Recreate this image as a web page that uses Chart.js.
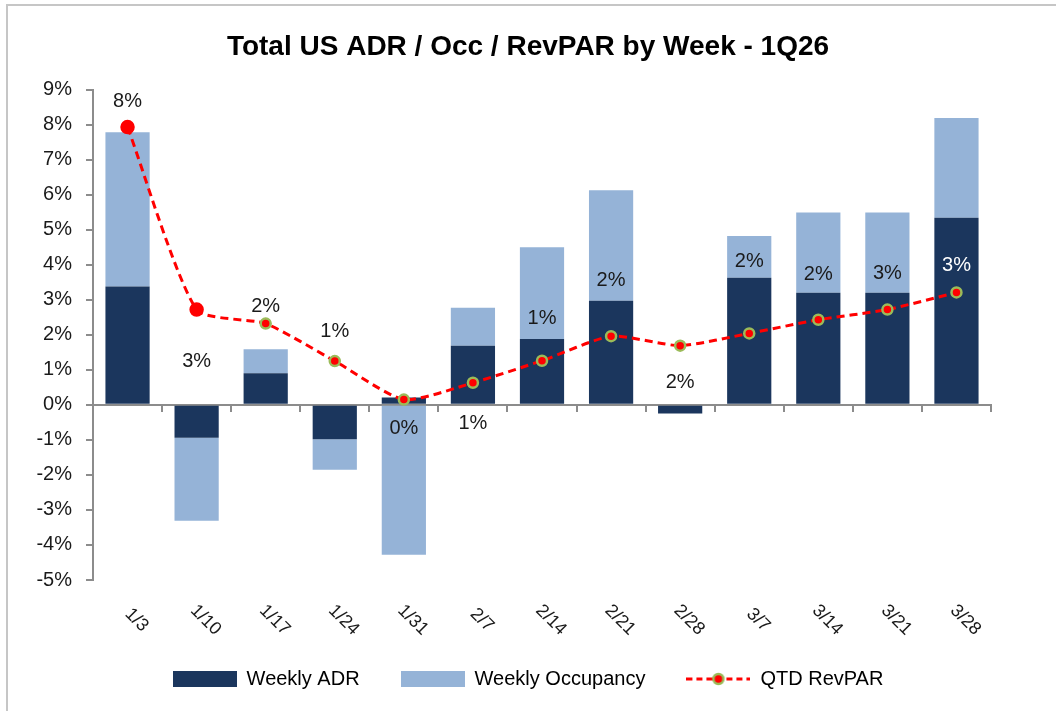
<!DOCTYPE html>
<html>
<head>
<meta charset="utf-8">
<script src="https://cdn.jsdelivr.net/npm/chart.js@4.4.1/dist/chart.umd.min.js"></script>
<style>
  html, body { margin: 0; padding: 0; background: #fff; }
  #wrap { position: relative; width: 1056px; height: 711px; overflow: hidden; }
  #frame { position: absolute; left: 6px; top: 4px; width: 1100px; height: 800px;
           border-top: 2px solid #c6c6c6; border-left: 2px solid #c6c6c6; }
  canvas { position: absolute; left: 0; top: 0; }
</style>
</head>
<body>
<div id="wrap">
  <div id="frame"></div>
  <canvas id="chart" width="1056" height="711"></canvas>
</div>
<script>
const weeks = ['1/3', '1/10', '1/17', '1/24', '1/31', '2/7', '2/14', '2/21', '2/28', '3/7', '3/14', '3/21', '3/28'];
const weeklyAdr = [3.38, -0.94, 0.90, -0.98, 0.21, 1.69, 1.88, 2.97, -0.25, 3.63, 3.20, 3.20, 5.34];
const weeklyOcc = [4.40, -2.37, 0.69, -0.87, -4.28, 1.08, 2.62, 3.16, 0, 1.19, 2.29, 2.29, 2.85];
const qtdRevpar = [7.93, 2.72, 2.32, 1.25, 0.15, 0.63, 1.26, 1.96, 1.69, 2.04, 2.43, 2.72, 3.21];

// where each RevPAR label sits relative to its point (px, negative = above)
const labelOffsets = [-26, 52, -17, -30, 29, 41, -42, -56, 37, -72, -45, -36, -27];
const labelColours = weeks.map((w, i) => i === weeks.length - 1 ? '#ffffff' : '#1a1a1a');

const fontFamily = "'Liberation Sans', Arial, sans-serif";
const navy = '#1b365d';
const lightBlue = '#95b3d7';
const red = '#ff0000';
const olive = '#9bbb59';
const axisGrey = '#8c8c8c';

function swatch(draw) {
    const c = document.createElement('canvas');
    c.width = 64;
    c.height = 16;
    draw(c.getContext('2d'));
    return c;
}

const legendSwatches = [
    swatch(g => { g.fillStyle = navy; g.fillRect(0, 0, 64, 16); }),
    swatch(g => { g.fillStyle = lightBlue; g.fillRect(0, 0, 64, 16); }),
    swatch(g => {
        g.strokeStyle = red;
        g.lineWidth = 3;
        g.setLineDash([6, 4]);
        g.beginPath();
        g.moveTo(0, 8);
        g.lineTo(64, 8);
        g.stroke();
        g.setLineDash([]);
        g.beginPath();
        g.arc(32, 8, 5, 0, Math.PI * 2);
        g.fillStyle = red;
        g.fill();
        g.lineWidth = 2.5;
        g.strokeStyle = olive;
        g.stroke();
    })
];

const weekLabels = {
    id: 'weekLabels',
    afterDraw(chart) {
        const { ctx, chartArea } = chart;
        const x = chart.scales.x;
        ctx.save();
        ctx.font = '18px ' + fontFamily;
        ctx.fillStyle = '#1a1a1a';
        ctx.textAlign = 'center';
        ctx.textBaseline = 'middle';
        weeks.forEach((w, i) => {
            ctx.save();
            ctx.translate(x.getPixelForValue(i) + 9, chartArea.bottom + 40);
            ctx.rotate(Math.PI / 4);
            ctx.fillText(w, 0, 0);
            ctx.restore();
        });
        ctx.restore();
    }
};

const revparLabels = {
    id: 'revparLabels',
    afterDatasetsDraw(chart) {
        const { ctx } = chart;
        const meta = chart.getDatasetMeta(2);
        ctx.save();
        ctx.font = '20px ' + fontFamily;
        ctx.textAlign = 'center';
        ctx.textBaseline = 'middle';
        meta.data.forEach((pt, i) => {
            ctx.fillStyle = labelColours[i];
            ctx.fillText(Math.round(qtdRevpar[i]) + '%', pt.x, pt.y + labelOffsets[i]);
        });
        ctx.restore();
    }
};

const pointBorders = qtdRevpar.map((v, i) => i < 2 ? red : olive);
const pointRadii = qtdRevpar.map((v, i) => i < 2 ? 6 : 5);

new Chart(document.getElementById('chart'), {
    type: 'bar',
    data: {
        labels: weeks,
        datasets: [
            {
                label: 'Weekly ADR',
                data: weeklyAdr,
                backgroundColor: navy,
                stack: 'wk',
                xAxisID: 'x',
                yAxisID: 'y',
                order: 1,
                barPercentage: 0.64,
                categoryPercentage: 1
            },
            {
                label: 'Weekly Occupancy',
                data: weeklyOcc,
                backgroundColor: lightBlue,
                stack: 'wk',
                xAxisID: 'x',
                yAxisID: 'y',
                order: 1,
                barPercentage: 0.64,
                categoryPercentage: 1
            },
            {
                type: 'line',
                label: 'QTD RevPAR',
                data: qtdRevpar,
                xAxisID: 'x',
                yAxisID: 'y',
                order: 0,
                borderColor: red,
                borderWidth: 3,
                borderDash: [8, 5],
                tension: 0.2,
                fill: false,
                pointRadius: pointRadii,
                pointBackgroundColor: red,
                pointBorderColor: pointBorders,
                pointBorderWidth: 2.5
            }
        ]
    },
    options: {
        responsive: false,
        animation: false,
        layout: { padding: { left: 0, right: 0, top: 0, bottom: 12 } },
        plugins: {
            title: {
                display: true,
                text: 'Total US ADR / Occ / RevPAR by Week - 1Q26',
                color: '#000',
                font: { family: fontFamily, size: 28, weight: 'bold' },
                padding: { top: 30, bottom: 26 }
            },
            legend: {
                position: 'bottom',
                labels: {
                    color: '#000',
                    font: { family: fontFamily, size: 20 },
                    usePointStyle: true,
                    pointStyleWidth: 64,
                    boxWidth: 64,
                    boxHeight: 16,
                    padding: 41,
                    generateLabels(chart) {
                        const items = Chart.defaults.plugins.legend.labels.generateLabels(chart);
                        items.sort((a, b) => a.datasetIndex - b.datasetIndex);
                        items.forEach(it => { it.pointStyle = legendSwatches[it.datasetIndex]; });
                        return items;
                    }
                }
            },
            tooltip: { enabled: false }
        },
        scales: {
            x: {
                position: { y: 0 },
                stacked: true,
                offset: true,
                grid: { offset: true, drawOnChartArea: false, tickLength: 6, color: axisGrey, lineWidth: 2 },
                border: { color: axisGrey, width: 2 },
                ticks: { display: false }
            },
            xs: {
                type: 'category',
                labels: weeks,
                position: 'bottom',
                grid: { display: false },
                border: { display: false },
                ticks: { display: false },
                afterFit(s) { s.height = 48; }
            },
            y: {
                stacked: true,
                min: -5,
                max: 9,
                grid: { drawOnChartArea: false, tickLength: 7, color: axisGrey, lineWidth: 2 },
                border: { color: axisGrey, width: 2 },
                ticks: {
                    stepSize: 1,
                    padding: 14,
                    color: '#1a1a1a',
                    font: { family: fontFamily, size: 20 },
                    callback: v => v + '%'
                },
                afterFit(s) { s.width = 93; }
            },
            ys: {
                type: 'linear',
                position: 'right',
                grid: { display: false },
                border: { display: false },
                ticks: { display: false },
                afterFit(s) { s.width = 65; }
            }
        }
    },
    plugins: [weekLabels, revparLabels]
});
</script>
</body>
</html>
